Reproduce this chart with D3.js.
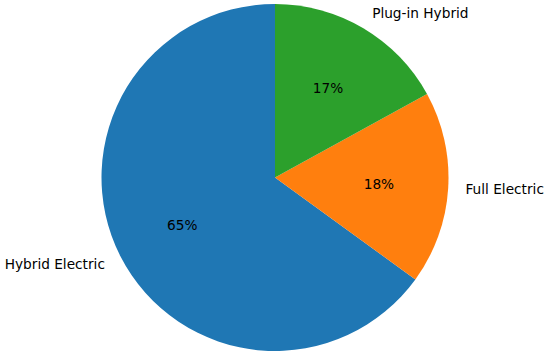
<!DOCTYPE html>
<html><head><meta charset="utf-8">
<script src="https://cdn.jsdelivr.net/npm/d3@7"></script>
<style>body{margin:0;background:#fff}svg{display:block}</style>
</head><body>
<svg id="chart" width="550" height="357"></svg>
<script>
const categories = ["Hybrid Electric", "Full Electric", "Plug-in Hybrid"];
const values = [65, 18, 17];
const colors = ["#1f77b4", "#ff7f0e", "#2ca02c"];

const svg = d3.select("#chart");
const cx = 275, cy = 177.5, r = 173.5;
const g = svg.append("g").attr("transform", `translate(${cx},${cy})`);

// matplotlib: startangle=90, counterclockwise. d3 angles: 0 at top, clockwise.
const pie = d3.pie().sort(null).value(d => d)
  .startAngle(0).endAngle(-2 * Math.PI);
const arcs = pie(values);
const arc = d3.arc().innerRadius(0).outerRadius(r);

g.selectAll("path").data(arcs).join("path")
  .attr("d", arc)
  .attr("fill", (d, i) => colors[i]);

const font = "DejaVu Sans, sans-serif";
const fs = 13.7;
arcs.forEach((d, i) => {
  const mid = (d.startAngle + d.endAngle) / 2;
  const sx = Math.sin(mid), sy = -Math.cos(mid);
  const lx = sx * r * 1.1, ly = sy * r * 1.1;
  g.append("text")
    .attr("x", lx).attr("y", ly)
    .attr("text-anchor", lx < 0 ? "end" : "start")
    .attr("dominant-baseline", "central")
    .attr("font-family", font).attr("font-size", fs)
    .attr("fill", "#000")
    .text(categories[i]);
  const total = d3.sum(values);
  g.append("text")
    .attr("x", sx * r * 0.6).attr("y", sy * r * 0.6)
    .attr("text-anchor", "middle")
    .attr("dominant-baseline", "central")
    .attr("font-family", font).attr("font-size", fs)
    .attr("fill", "#000")
    .text(Math.round(d.data / total * 100) + "%");
});
</script>
</body></html>
